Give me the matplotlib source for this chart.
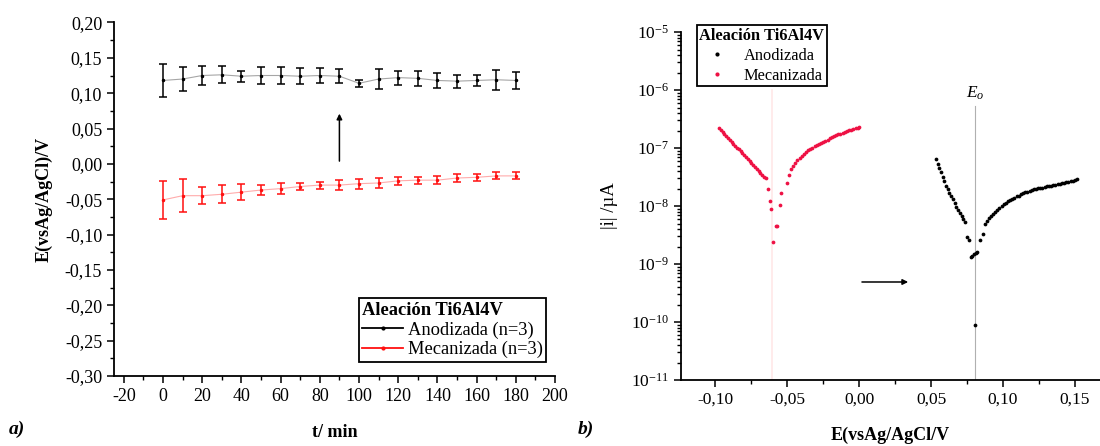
import matplotlib
matplotlib.use('Agg')
import matplotlib.pyplot as plt
from matplotlib.ticker import MultipleLocator, FuncFormatter, LogLocator, LogFormatterSciNotation
from matplotlib.lines import Line2D
import numpy as np

plt.rcParams['font.family'] = ['Liberation Serif', 'DejaVu Serif']
plt.rcParams['mathtext.fontset'] = 'custom'
plt.rcParams['mathtext.rm'] = 'Liberation Serif'
plt.rcParams['mathtext.it'] = 'Liberation Serif:italic'
plt.rcParams['axes.unicode_minus'] = False

# ---- panel a) open circuit potential vs time ----
t_min = [0, 10, 20, 30, 40, 50, 60, 70, 80, 90, 100, 110, 120, 130, 140, 150, 160, 170, 180]
E_anod = [0.118, 0.120, 0.125, 0.126, 0.124, 0.125, 0.125, 0.124, 0.125, 0.124, 0.114,
          0.120, 0.122, 0.121, 0.118, 0.117, 0.118, 0.119, 0.118]
err_anod = [0.023, 0.017, 0.014, 0.012, 0.008, 0.012, 0.012, 0.011, 0.011, 0.010, 0.005,
            0.014, 0.010, 0.011, 0.010, 0.009, 0.008, 0.014, 0.012]
E_mec = [-0.051, -0.045, -0.045, -0.043, -0.040, -0.037, -0.035, -0.032, -0.030, -0.030,
         -0.028, -0.027, -0.024, -0.023, -0.023, -0.020, -0.019, -0.017, -0.017]
err_mec = [0.027, 0.023, 0.012, 0.013, 0.011, 0.007, 0.0075, 0.005, 0.005, 0.0065,
           0.007, 0.007, 0.006, 0.005, 0.006, 0.006, 0.005, 0.005, 0.005]

# ---- panel b) polarisation curves |i| vs E ----
E_red = [-0.0975, -0.0962, -0.0950, -0.0938, -0.0925, -0.0912, -0.0900, -0.0887, -0.0875,
         -0.0862, -0.0850, -0.0837, -0.0825, -0.0812, -0.0800, -0.0787, -0.0775, -0.0762,
         -0.0750, -0.0737, -0.0725, -0.0712, -0.0700, -0.0687, -0.0675, -0.0662, -0.0650,
         -0.0635, -0.0622, -0.0612, -0.0582, -0.0572, -0.0600, -0.0553, -0.0545,
         -0.0505, -0.0490, -0.0475, -0.0460, -0.0445, -0.0430, -0.0415, -0.0400, -0.0385,
         -0.0370, -0.0355, -0.0340, -0.0325, -0.0310, -0.0295, -0.0280, -0.0265, -0.0250,
         -0.0235, -0.0220, -0.0205, -0.0190, -0.0175, -0.0160, -0.0145, -0.0130, -0.0115,
         -0.0100, -0.0085, -0.0070, -0.0055, -0.0040, -0.0025, -0.0010, -0.0002]
i_red = [2.20e-7, 2.04e-7, 1.89e-7, 1.75e-7, 1.62e-7, 1.50e-7, 1.39e-7, 1.28e-7, 1.19e-7,
         1.10e-7, 1.02e-7, 9.45e-8, 8.75e-8, 8.10e-8, 7.50e-8, 6.95e-8, 6.43e-8, 5.96e-8,
         5.52e-8, 5.11e-8, 4.73e-8, 4.38e-8, 4.06e-8, 3.76e-8, 3.48e-8, 3.22e-8, 3.00e-8,
         2.0e-8, 1.2e-8, 9.0e-9, 4.6e-9, 4.6e-9, 2.4e-9, 1.05e-8, 1.7e-8,
         2.5e-8, 3.5e-8, 4.4e-8, 5.0e-8, 5.6e-8, 6.2e-8, 6.8e-8, 7.4e-8, 7.9e-8,
         8.5e-8, 9.1e-8, 9.6e-8, 1.02e-7, 1.07e-7, 1.12e-7, 1.17e-7, 1.23e-7, 1.29e-7,
         1.34e-7, 1.40e-7, 1.47e-7, 1.54e-7, 1.61e-7, 1.66e-7, 1.73e-7, 1.78e-7, 1.85e-7,
         1.90e-7, 1.98e-7, 2.03e-7, 2.08e-7, 2.13e-7, 2.19e-7, 2.25e-7, 2.28e-7]

E_black = [0.0533, 0.0545, 0.0556, 0.0568, 0.0580, 0.0592, 0.0604, 0.0616, 0.0628, 0.0640,
           0.0652, 0.0664, 0.0676, 0.0688, 0.0700, 0.0712, 0.0724, 0.0735,
           0.0747, 0.0766, 0.0775, 0.0787, 0.0798, 0.0810, 0.0821, 0.0805,
           0.0839, 0.0858, 0.0872, 0.0886, 0.0900, 0.0915, 0.0930, 0.0945, 0.0960, 0.0975,
           0.0990, 0.1005, 0.1020, 0.1035, 0.1050, 0.1065, 0.1080, 0.1095, 0.1110, 0.1125,
           0.1140, 0.1155, 0.1170, 0.1185, 0.1200, 0.1215, 0.1230, 0.1245, 0.1260, 0.1275,
           0.1290, 0.1305, 0.1320, 0.1335, 0.1350, 0.1365, 0.1380, 0.1395, 0.1410, 0.1425,
           0.1440, 0.1455, 0.1470, 0.1485, 0.1500, 0.1512]
i_black = [6.4e-8, 5.4e-8, 4.5e-8, 3.8e-8, 3.2e-8, 2.7e-8, 2.25e-8, 1.95e-8, 1.7e-8, 1.48e-8,
           1.3e-8, 1.12e-8, 9.8e-9, 8.6e-9, 7.6e-9, 6.7e-9, 6.0e-9, 5.4e-9,
           2.9e-9, 2.6e-9, 1.3e-9, 1.4e-9, 1.47e-9, 1.55e-9, 1.6e-9, 9.0e-11,
           2.6e-9, 3.3e-9, 4.9e-9, 5.5e-9, 6.2e-9, 6.8e-9, 7.3e-9, 7.9e-9, 8.5e-9, 9.1e-9,
           1.0e-8, 1.08e-8, 1.14e-8, 1.22e-8, 1.28e-8, 1.34e-8, 1.40e-8, 1.48e-8, 1.52e-8, 1.60e-8,
           1.65e-8, 1.72e-8, 1.78e-8, 1.82e-8, 1.90e-8, 1.95e-8, 1.98e-8, 2.02e-8, 2.08e-8, 2.05e-8,
           2.12e-8, 2.18e-8, 2.20e-8, 2.25e-8, 2.28e-8, 2.35e-8, 2.38e-8, 2.42e-8, 2.48e-8, 2.52e-8,
           2.55e-8, 2.62e-8, 2.68e-8, 2.72e-8, 2.80e-8, 2.90e-8]

E_corr_mec = -0.0604
E_corr_anod = 0.0805

red = '#ff1010'
red_pts = '#ee1144'


def comma_fmt(v, pos):
    s = '%.2f' % v
    if s == '-0.00':
        s = '0.00'
    return s.replace('.', ',')


fig = plt.figure(figsize=(11, 4.46), dpi=100)

# %% panel a
ax1 = fig.add_axes([0.1036, 0.157, 0.401, 0.7926])
ax1.plot(t_min, E_anod, color='k', lw=0.8, alpha=0.35)
ax1.errorbar(t_min, E_anod, yerr=err_anod, fmt='.', color='k', ms=3, elinewidth=1.1,
             capsize=3, capthick=1.1)
ax1.plot(t_min, E_mec, color=red, lw=0.8, alpha=0.35)
ax1.errorbar(t_min, E_mec, yerr=err_mec, fmt='.', color=red, ms=3, elinewidth=1.1,
             capsize=3, capthick=1.1)
ax1.annotate('', xy=(90, 0.075), xytext=(90, 0.0),
             arrowprops=dict(arrowstyle='-|>', color='k', lw=1.1, mutation_scale=8))

ax1.set_xlim(-25, 200)
ax1.set_ylim(-0.30, 0.20)
ax1.xaxis.set_major_locator(MultipleLocator(20))
ax1.xaxis.set_minor_locator(MultipleLocator(10))
ax1.yaxis.set_major_locator(MultipleLocator(0.05))
ax1.yaxis.set_minor_locator(MultipleLocator(0.025))
ax1.yaxis.set_major_formatter(FuncFormatter(comma_fmt))
ax1.set_xlabel('t/ min', fontsize=13, fontweight='bold')
ax1.set_ylabel('E(vsAg/AgCl)/V', fontsize=13, fontweight='bold')
ax1.yaxis.set_label_coords(-0.14, 0.5)
ax1.xaxis.set_label_coords(0.5, -0.135)

h1 = Line2D([], [], color='k', marker='.', ms=4, lw=1.3)
h2 = Line2D([], [], color=red, marker='.', ms=4, lw=1.3)
leg1 = ax1.legend([h1, h2], ['Anodizada (n=3)', 'Mecanizada (n=3)'], title='Aleación Ti6Al4V',
                  loc='lower right', bbox_to_anchor=(0.98, 0.04), fontsize=13.3,
                  title_fontproperties={'weight': 'bold', 'size': 13.3}, frameon=True,
                  fancybox=False, edgecolor='k', framealpha=1, handlelength=2.2,
                  handletextpad=0.25, borderpad=0.2, labelspacing=0.12, borderaxespad=0)
leg1._legend_box.align = 'left'
leg1.get_frame().set_linewidth(1.3)

# %% panel b
ax2 = fig.add_axes([0.619, 0.148, 0.381, 0.780])
ax2.plot([E_corr_mec, E_corr_mec], [1e-11, 1e-6], color='#ffe8e8', lw=1.2, zorder=0)
ax2.plot([E_corr_anod, E_corr_anod], [1e-11, 5.4e-7], color='#b0b0b0', lw=0.8, zorder=0)
ax2.semilogy(E_red, i_red, linestyle='none', marker='o', ms=2.7, color=red_pts, mec='none')
ax2.semilogy(E_black, i_black, linestyle='none', marker='o', ms=2.7, color='k', mec='none')
ax2.text(E_corr_anod, 8.7e-7, '$E_{o}$', ha='center', va='center', fontsize=12.5)
ax2.annotate('', xy=(0.036, 4.9e-10), xytext=(0.0, 4.9e-10),
             arrowprops=dict(arrowstyle='-|>', color='k', lw=1.1, mutation_scale=8))

ax2.set_xlim(-0.124, 0.1675)
ax2.set_ylim(1e-11, 1e-5)
ax2.xaxis.set_major_locator(MultipleLocator(0.05))
ax2.xaxis.set_minor_locator(MultipleLocator(0.025))
ax2.xaxis.set_major_formatter(FuncFormatter(comma_fmt))
ax2.yaxis.set_major_locator(LogLocator(base=10, numticks=10))
ax2.yaxis.set_minor_locator(LogLocator(base=10, subs=np.arange(2, 10), numticks=20))
ax2.yaxis.set_major_formatter(LogFormatterSciNotation())
ax2.set_xlabel('E(vsAg/AgCl/V', fontsize=13, fontweight='bold')
ax2.set_ylabel('|i| /µA', fontsize=13.5)
ax2.yaxis.set_label_coords(-0.15, 0.5)
ax2.xaxis.set_label_coords(0.5, -0.135)

h3 = Line2D([], [], color='k', marker='o', ms=3, lw=0, mec='none')
h4 = Line2D([], [], color=red_pts, marker='o', ms=3, lw=0, mec='none')
leg2 = ax2.legend([h3, h4], ['Anodizada', 'Mecanizada'], title='Aleación Ti6Al4V',
                  loc='upper left', bbox_to_anchor=(0.038, 1.02), fontsize=11.8,
                  title_fontproperties={'weight': 'bold', 'size': 11.8}, frameon=True,
                  fancybox=False, edgecolor='k', framealpha=1, handlelength=2.0,
                  handletextpad=0.6, borderpad=0.15, labelspacing=0.25, borderaxespad=0)
leg2.get_frame().set_linewidth(1.3)

for ax in (ax1, ax2):
    ax.spines['top'].set_visible(False)
    ax.spines['right'].set_visible(False)
    ax.spines['left'].set_linewidth(1.3)
    ax.spines['bottom'].set_linewidth(1.3)
    ax.tick_params(which='major', direction='out', length=5, width=1.1, labelsize=13)
    ax.tick_params(which='minor', direction='out', length=3, width=1.0)
ax2.tick_params(which='major', labelsize=12.5)

fig.text(0.008, 0.028, 'a)', fontsize=14, fontweight='bold', fontstyle='italic')
fig.text(0.525, 0.028, 'b)', fontsize=14, fontweight='bold', fontstyle='italic')

plt.savefig('out.png', dpi=100)
plt.close()
